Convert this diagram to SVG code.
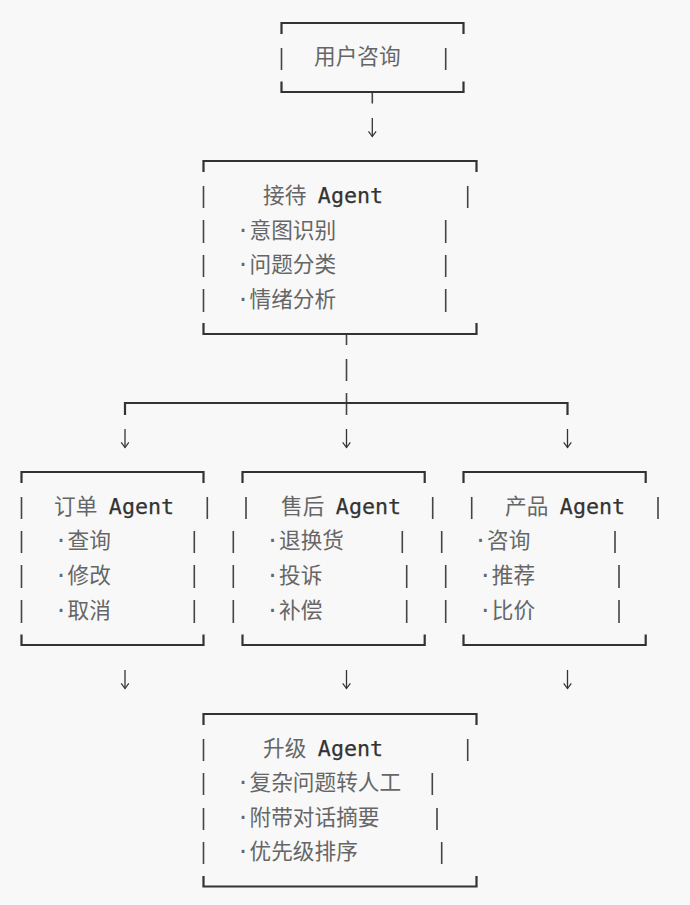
<svg xmlns="http://www.w3.org/2000/svg" width="690" height="905" viewBox="0 0 690 905">
<style>
text{font-family:"DejaVu Sans Mono","Noto Sans CJK SC",monospace;font-size:21.67px;fill:#666}
.g{fill:#333;stroke:#333;stroke-width:.25}
.f{fill:none;stroke:#333;stroke-width:2.2}
.v{fill:none;stroke:#444;stroke-width:1.6}
.a{fill:none;stroke:#333;stroke-width:1.3;marker-end:url(#head)}
</style>
<defs>
<marker id="head" markerWidth="10" markerHeight="10" refX="8" refY="5" markerUnits="userSpaceOnUse" orient="auto" viewBox="0 0 10 10"><path d="M2.800 1.200L8 5L2.800 8.800" fill="none" stroke="#333" stroke-width="1.200"/></marker>
</defs>
<rect width="690" height="905" fill="#f8f8f8"/>
<g id="connectors">
<path class="v" d="M372.300 92V103.500M346.500 334V345M346.500 359V381M346.500 393V415"/>
<path class="f" d="M125 415V403H567.500V415"/>
<path class="a" d="M372.300 118V136.500"/>
<path class="a" d="M125 429V447.500"/>
<path class="a" d="M346.500 429V447.500"/>
<path class="a" d="M567.500 429V447.500"/>
<path class="a" d="M125 670V688.500"/>
<path class="a" d="M346.500 670V688.500"/>
<path class="a" d="M567.500 670V688.500"/>
</g>
<g id="node-user">
<path class="f" d="M281.500 34V23H463.500V34M281.500 81.500V92H463.500V81.500"/>
<path class="v" d="M281.500 48V70M445.700 48V70"/>
<text x="314" y="64">用户咨询</text>
</g>
<g id="node-reception">
<path class="f" d="M203.500 172V161H476.500V172M203.500 323V334H476.500V323"/>
<path class="v" d="M203.500 186V208M467.700 186V208M203.500 220V243M445.700 220V243M203.500 255V277M445.700 255V277M203.500 289V312M445.700 289V312"/>
<text x="263" y="203">接待 <tspan class="g" dx="-1.500">Agent</tspan></text>
<text x="236.500" y="238">·意图识别</text>
<text x="236.500" y="272">·问题分类</text>
<text x="236.500" y="307">·情绪分析</text>
</g>
<g id="node-order">
<path class="f" d="M21.500 483V472H203.500V483M21.500 634.500V645H203.500V634.500"/>
<path class="v" d="M21.500 497V519M207.300 497V519M21.500 531V553M194.300 531V553M21.500 565V588M194.300 565V588M21.500 600V623M194.300 600V623"/>
<text x="54" y="514">订单 <tspan class="g" dx="-1.500">Agent</tspan></text>
<text x="54.500" y="548">·查询</text>
<text x="54.500" y="583">·修改</text>
<text x="54.500" y="618">·取消</text>
</g>
<g id="node-aftersales">
<path class="f" d="M242.500 483V472H424.700V483M242.500 634.500V645H424.700V634.500"/>
<path class="v" d="M246 497V519M432.700 497V519M233.300 531V553M402.300 531V553M233.300 565V588M406.700 565V588M233.300 600V623M406.700 600V623"/>
<text x="281" y="514">售后 <tspan class="g" dx="-1.500">Agent</tspan></text>
<text x="266" y="548">·退换货</text>
<text x="266" y="583">·投诉</text>
<text x="266" y="618">·补偿</text>
</g>
<g id="node-product">
<path class="f" d="M463.500 483V472H645.700V483M463.500 634.500V645H645.700V634.500"/>
<path class="v" d="M471.700 497V519M658 497V519M441.700 531V553M615 531V553M445.700 565V588M619 565V588M445.700 600V623M619 600V623"/>
<text x="505" y="514">产品 <tspan class="g" dx="-1.500">Agent</tspan></text>
<text x="474" y="548">·咨询</text>
<text x="478.700" y="583">·推荐</text>
<text x="478.700" y="618">·比价</text>
</g>
<g id="node-escalation">
<path class="f" d="M203.500 725V714H476.500V725M203.500 876V886.500H476.500V876"/>
<path class="v" d="M203.500 739V761M467.700 739V761M203.500 773V795M432.300 773V795M203.500 808V830M437 808V830M203.500 842V864M441.700 842V864"/>
<text x="263" y="756">升级 <tspan class="g" dx="-1.500">Agent</tspan></text>
<text x="236.500" y="790">·复杂问题转人工</text>
<text x="236.500" y="825">·附带对话摘要</text>
<text x="236.500" y="859">·优先级排序</text>
</g>
</svg>
